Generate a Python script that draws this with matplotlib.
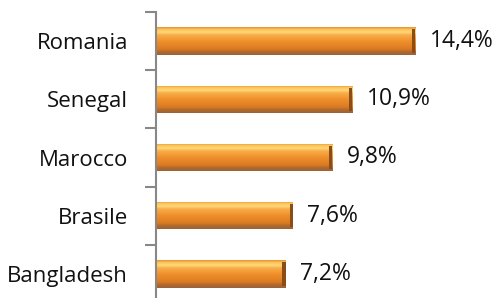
import numpy as np
import matplotlib
matplotlib.use('Agg')
import matplotlib.pyplot as plt
from matplotlib.colors import LinearSegmentedColormap

countries = ['Romania', 'Senegal', 'Marocco', 'Brasile', 'Bangladesh']
shares = [14.4, 10.9, 9.8, 7.6, 7.2]
labels = ['14,4%', '10,9%', '9,8%', '7,6%', '7,2%']

plt.rcParams['font.family'] = ['Open Sans', 'DejaVu Sans']

fig = plt.figure(figsize=(4.98, 2.98), dpi=100)
# axis spans from y=12px down past the bottom of the image
ax = fig.add_axes([156 / 498, -5 / 298, 342 / 498, 291 / 298])

n = len(countries)
ypos = np.arange(n)[::-1]
bar_h = 0.47

# vertical gradient for the bevelled bar look (bottom -> top)
grad_cmap = LinearSegmentedColormap.from_list('bar', [
    (0.0, '#9c6238'), (0.12, '#b36a2e'), (0.2, '#d97a22'),
    (0.5, '#f0902c'), (0.72, '#f8ae4a'), (0.82, '#ffd877'),
    (0.92, '#fbc45c'), (1.0, '#e8942e')])
grad = np.linspace(0, 1, 64).reshape(-1, 1)

for y, v in zip(ypos, shares):
    bars = ax.barh(y, v, height=bar_h, color='none', edgecolor='none')
    rect = bars.patches[0]
    im = ax.imshow(grad, cmap=grad_cmap, aspect='auto', origin='lower',
                   extent=[0, v, y - bar_h / 2, y + bar_h / 2], zorder=2)
    im.set_clip_path(rect)
    # darker right cap
    ax.barh(y, 0.17, left=v - 0.17, height=bar_h * 0.86, color='#8a4d18',
            zorder=3)

for y, v, lab in zip(ypos, shares, labels):
    ax.text(v + 0.8, y, lab, va='center', ha='left', fontsize=16.5,
            color='#111111')

ax.set_xlim(0, 342 / 17.99)
ax.set_ylim(-0.5, n - 0.5)
ax.set_yticks(ypos)
ax.set_yticklabels(countries, fontsize=16, color='#111111')
ax.set_yticks(np.arange(-0.5, n, 1.0), minor=True)
ax.tick_params(axis='y', which='major', length=0, pad=20)
ax.tick_params(axis='y', which='minor', length=8, width=1.5, color='#888888')
ax.set_xticks([])
for s in ['top', 'right', 'bottom']:
    ax.spines[s].set_visible(False)
ax.spines['left'].set_color('#888888')
ax.spines['left'].set_linewidth(1.5)

fig.savefig('out.png', dpi=100)
